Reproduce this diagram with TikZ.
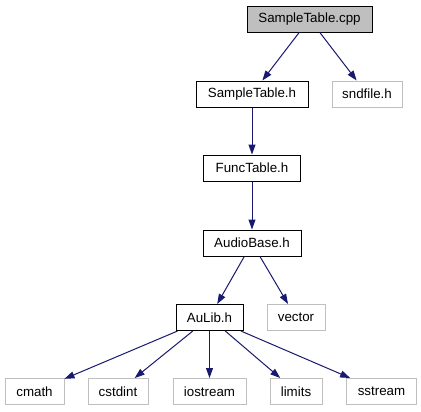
\documentclass[tikz,border=0pt]{standalone}
\usepackage{fontspec}
\setmainfont{Liberation Sans}
\usetikzlibrary{arrows.meta}
\definecolor{edgeblue}{HTML}{191970}
\definecolor{extgrey}{HTML}{BFBFBF}
\tikzset{
  box/.style={draw=black, line width=0.75pt, fill=white, inner sep=0pt, minimum height=19.5pt,
    font=\fontsize{10pt}{12pt}\selectfont, text=black},
  mainbox/.style={box, fill=extgrey},
  extbox/.style={box, draw=extgrey},
  dep/.style={draw=edgeblue, line width=0.75pt, -{Triangle[length=7.5pt,width=5.25pt]}, color=edgeblue}
}
\begin{document}
\begin{tikzpicture}[x=0.75pt,y=-0.75pt]
\useasboundingbox[fill=white] (0,0) rectangle (421,411);
\node[mainbox, minimum width=93.75pt] (cpp) at (309.5,19) {SampleTable.cpp};
\node[box, minimum width=84pt] (sth) at (252,94) {SampleTable.h};
\node[extbox, minimum width=52.5pt] (snd) at (367,94) {sndfile.h};
\node[box, minimum width=72.75pt] (func) at (252,168) {FuncTable.h};
\node[box, minimum width=73.5pt] (audio) at (252,243) {AudioBase.h};
\node[box, minimum width=50.25pt] (aulib) at (209.5,317.5) {AuLib.h};
\node[extbox, minimum width=43.5pt] (vector) at (296,317.5) {vector};
\node[extbox, minimum width=44.25pt] (cmath) at (34.5,391.5) {cmath};
\node[extbox, minimum width=45pt] (cstdint) at (118,391.5) {cstdint};
\node[extbox, minimum width=54.75pt] (iostream) at (209.5,391.5) {iostream};
\node[extbox, minimum width=39pt] (limits) at (296,391.5) {limits};
\node[extbox, minimum width=52.5pt] (sstream) at (381.5,391.5) {sstream};
\draw[dep] (cpp) -- (sth);
\draw[dep] (cpp) -- (snd);
\draw[dep] (sth) -- (func);
\draw[dep] (func) -- (audio);
\draw[dep] (audio) -- (aulib);
\draw[dep] (audio) -- (vector);
\draw[dep] (aulib) -- (cmath);
\draw[dep] (aulib) -- (cstdint);
\draw[dep] (aulib) -- (iostream);
\draw[dep] (aulib) -- (limits);
\draw[dep] (aulib) -- (sstream);
\end{tikzpicture}
\end{document}
